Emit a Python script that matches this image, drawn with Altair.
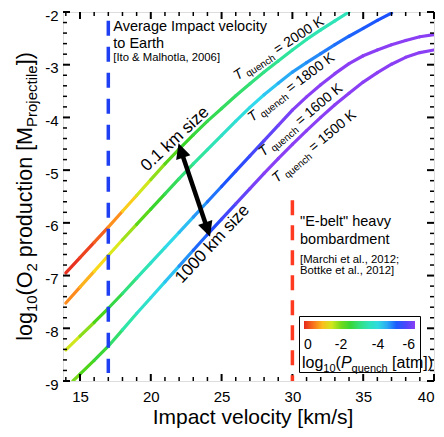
import altair as alt
import pandas as pd

FONT = "Liberation Sans"

# ------------------------------------------------------------------ data
# impact velocity [km/s], log10 O2 production, log10 P_quench (colour of the curve)
vel_2000 = [14, 15, 16, 17, 18, 19, 20, 21, 22, 23, 24, 25, 26, 27, 28, 29, 30, 31, 32, 33, 34]
o2_2000 = [-6.95, -6.66, -6.37, -6.08, -5.78, -5.48, -5.18, -4.88, -4.60, -4.33, -4.07,
           -3.83, -3.59, -3.36, -3.14, -2.93, -2.72, -2.52, -2.34, -2.17, -2.00]
pq_2000 = [0.0, -0.1, -0.25, -0.5, -0.9, -1.3, -1.7, -2.0, -2.3, -2.5, -2.65,
           -2.75, -2.85, -2.95, -3.05, -3.15, -3.25, -3.35, -3.45, -3.5, -3.55]

vel_1800 = [14, 15, 16, 17, 18, 19, 20, 21, 22, 23, 24, 25, 26, 27, 28, 29, 30, 31, 32, 33,
            34, 35, 36, 37]
o2_1800 = [-7.52, -7.22, -6.92, -6.62, -6.32, -6.03, -5.74, -5.45, -5.16, -4.88, -4.61, -4.34,
           -4.07, -3.81, -3.57, -3.35, -3.14, -2.96, -2.79, -2.62, -2.46, -2.31, -2.16, -2.02]
pq_1800 = [-0.55, -0.8, -1.05, -1.3, -1.6, -1.95, -2.3, -2.6, -2.85, -3.1, -3.35, -3.6,
           -3.85, -4.05, -4.25, -4.4, -4.55, -4.65, -4.75, -4.85, -4.92, -5.0, -5.05, -5.1]

vel_1600 = [14, 15, 16, 17, 18, 19, 20, 21, 22, 23, 24, 25, 26, 27, 28, 29, 30, 31, 32, 33,
            34, 35, 36, 37, 38, 39, 40]
o2_1600 = [-8.41, -8.15, -7.89, -7.62, -7.34, -7.05, -6.76, -6.47, -6.18, -5.89, -5.60, -5.31,
           -5.02, -4.73, -4.44, -4.15, -3.86, -3.61, -3.38, -3.17, -2.98, -2.83, -2.72, -2.62,
           -2.54, -2.47, -2.43]
pq_1600 = [-1.3, -1.7, -2.05, -2.4, -2.8, -3.2, -3.6, -3.95, -4.25, -4.5, -4.75, -4.95,
           -5.15, -5.35, -5.55, -5.75, -5.9, -6.0, -6.0, -6.0, -6.0, -6.0, -6.0, -6.0,
           -6.0, -6.0, -6.0]

vel_1500 = [14.5, 15, 16, 17, 18, 19, 20, 21, 22, 23, 24, 25, 26, 27, 28, 29, 30, 31, 32, 33,
            34, 35, 36, 37, 38, 39, 40]
o2_1500 = [-9.0, -8.87, -8.61, -8.34, -8.03, -7.72, -7.42, -7.12, -6.82, -6.52, -6.22, -5.93,
           -5.64, -5.35, -5.06, -4.78, -4.51, -4.25, -4.0, -3.76, -3.54, -3.33, -3.15, -2.99,
           -2.86, -2.77, -2.72]
pq_1500 = [-1.9, -2.05, -2.35, -2.65, -3.1, -3.5, -3.9, -4.2, -4.5, -4.8, -5.05, -5.3,
           -5.55, -5.8, -5.95, -6.0, -6.0, -6.0, -6.0, -6.0, -6.0, -6.0, -6.0, -6.0,
           -6.0, -6.0, -6.0]

curve_labels = ["= 2000 K", "= 1800 K", "= 1600 K", "= 1500 K"]

# axis ticks
x_major = [15, 20, 25, 30, 35, 40]
x_minor = [14, 16, 17, 18, 19, 21, 22, 23, 24, 26, 27, 28, 29, 31, 32, 33, 34, 36, 37, 38, 39]
y_major = [-9, -8, -7, -6, -5, -4, -3, -2]
y_minor = [-8.8, -8.6, -8.4, -8.2, -7.8, -7.6, -7.4, -7.2, -6.8, -6.6, -6.4, -6.2,
           -5.8, -5.6, -5.4, -5.2, -4.8, -4.6, -4.4, -4.2, -3.8, -3.6, -3.4, -3.2,
           -2.8, -2.6, -2.4, -2.2]

# colour bar
cbar_values = [0, 2, 4, 6]
cbar_domain = [0, 0.7, 1.3, 2.3, 3.3, 4.2, 5.1, 6.0]
cbar_colors = ["#e62a1e", "#ff8f1c", "#f7ec1c", "#3ad21a", "#2ee6a8", "#30d8f0", "#1a4cff", "#8b3ff5"]

# reference velocities (dashed lines)
earth_v, earth_top, earth_bot = 17, -2.165, -8.85
ebelt_v, ebelt_top, ebelt_bot = 30, -5.57, -9.0

# ------------------------------------------------------------------ layout
W, H = 371, 369
xs = alt.Scale(domain=[13.8, 40], nice=False, zero=False)
ys = alt.Scale(domain=[-9, -2], nice=False, zero=False)
xaxis = alt.Axis(values=x_major, title=None, grid=False, ticks=False, tickSize=0, domain=False,
                 labelFontSize=15, labelPadding=8, labelFont=FONT, labelColor="black",
                 labelExpr="'' + datum.value")
yaxis = alt.Axis(values=y_major, title=None, grid=False, ticks=False, tickSize=0, domain=False,
                 labelFontSize=15, labelPadding=5, labelFont=FONT, labelColor="black",
                 labelOffset=3, labelExpr="'' + datum.value")


def X(f):
    return alt.X(f, scale=xs, axis=xaxis)


def Y(f):
    return alt.Y(f, scale=ys, axis=yaxis)


# segments of the colour-graded curves
rows = []
for vs, os_, ps in [(vel_2000, o2_2000, pq_2000), (vel_1800, o2_1800, pq_1800),
                    (vel_1600, o2_1600, pq_1600), (vel_1500, o2_1500, pq_1500)]:
    for i in range(len(vs) - 1):
        rows.append({"v": vs[i], "y": os_[i], "v2": vs[i + 1], "y2": os_[i + 1],
                     "logp": (ps[i] + ps[i + 1]) / 2})
seg = pd.DataFrame(rows)

curves = alt.Chart(seg).transform_calculate(negp="-datum.logp").mark_rule(
    strokeWidth=3.2, strokeCap="round", clip=True
).encode(
    x=X("v:Q"), y=Y("y:Q"), x2="v2:Q", y2="y2:Q",
    color=alt.Color("negp:Q",
                    scale=alt.Scale(domain=cbar_domain, range=cbar_colors, interpolate="rgb"),
                    legend=alt.Legend(orient="none", legendX=236, legendY=304,
                                      direction="horizontal", gradientLength=111,
                                      gradientThickness=8, gradientStrokeWidth=0,
                                      values=cbar_values,
                                      labelExpr="datum.value == 0 ? '0' : '-' + datum.value",
                                      labelFontSize=14, labelFont=FONT, labelColor="black",
                                      labelAlign="center", labelOffset=9,
                                      title=" ", titleFontSize=13, titleOrient="bottom",
                                      titlePadding=2, padding=5, strokeColor="black"))
)

# ticks (inward, on all four sides)
def tick_layers():
    out = []
    for vals, ln, sw in [(x_major, 7, 2), (x_minor, 4, 1.5)]:
        d = pd.DataFrame({"t": vals})
        out.append(alt.Chart(d).mark_rule(color="black", strokeWidth=sw).encode(
            x=X("t:Q"), y=alt.value(H), y2=alt.value(H - ln)))
        out.append(alt.Chart(d).mark_rule(color="black", strokeWidth=sw).encode(
            x=X("t:Q"), y=alt.value(0), y2=alt.value(ln)))
    for vals, ln, sw in [(y_major, 7, 2), (y_minor, 4, 1.5)]:
        d = pd.DataFrame({"t": vals})
        out.append(alt.Chart(d).mark_rule(color="black", strokeWidth=sw).encode(
            y=Y("t:Q"), x=alt.value(0), x2=alt.value(ln)))
        out.append(alt.Chart(d).mark_rule(color="black", strokeWidth=sw).encode(
            y=Y("t:Q"), x=alt.value(W), x2=alt.value(W - ln)))
    return out


dash_blue = alt.Chart(pd.DataFrame({"v": [earth_v], "a": [earth_top], "b": [earth_bot]})).mark_rule(
    color="#1f3ff2", strokeWidth=3.5, strokeDash=[15, 11]).encode(x=X("v:Q"), y=Y("a:Q"), y2="b:Q")
dash_red = alt.Chart(pd.DataFrame({"v": [ebelt_v], "a": [ebelt_top], "b": [ebelt_bot]})).mark_rule(
    color="#ff3a20", strokeWidth=3.5, strokeDash=[15, 10]).encode(x=X("v:Q"), y=Y("a:Q"), y2="b:Q")

# double arrow between the 0.1 km and 1000 km curves
arrow_line = alt.Chart(pd.DataFrame({"v": [22.18], "y": [-4.671], "v2": [23.955], "y2": [-6.083]})
                       ).mark_rule(color="black", strokeWidth=4.5).encode(
    x=X("v:Q"), y=Y("y:Q"), x2="v2:Q", y2="y2:Q")
arrow_heads = alt.Chart(pd.DataFrame({"v": [21.957, 24.181], "y": [-4.491, -6.263],
                                      "ang": [341.4, 161.4]})).mark_point(
    shape="M0,0L-0.5,1L0.5,1Z", filled=True, size=900, color="black", opacity=1, strokeWidth=0
).encode(x=X("v:Q"), y=Y("y:Q"), angle=alt.Angle("ang:Q", scale=None))

# plain annotation text
notes = pd.DataFrame({
    "text": ["Average Impact velocity", "to Earth", "\"E-belt\" heavy", "bombardment"],
    "v": [17.35, 17.35, 30.54, 30.54], "y": [-2.351, -2.683, -6.069, -6.401]})
refs = pd.DataFrame({
    "text": ["[Ito & Malhotla, 2006]", "[Marchi et al., 2012;", "Bottke et al., 2012]"],
    "v": [17.35, 30.54, 30.54], "y": [-2.939, -6.762, -6.970]})
sizes = pd.DataFrame({"text": ["0.1 km size", "1000 km size"], "v": [19.73, 22.20],
                      "y": [-5.035, -7.16], "ang": [317, 313]})

notes_l = alt.Chart(notes).mark_text(align="left", baseline="alphabetic", font=FONT, fontSize=14.5,
                                     color="black").encode(x=X("v:Q"), y=Y("y:Q"), text="text:N")
refs_l = alt.Chart(refs).mark_text(align="left", baseline="alphabetic", font=FONT, fontSize=11.3,
                                   color="black").encode(x=X("v:Q"), y=Y("y:Q"), text="text:N")
sizes_l = alt.Chart(sizes).mark_text(align="left", baseline="alphabetic", font=FONT, fontSize=17,
                                     color="black").encode(
    x=X("v:Q"), y=Y("y:Q"), text="text:N", angle=alt.Angle("ang:Q", scale=None))

# rich text (subscripts) built from pieces
AW = {' ': 278, '(': 333, ')': 333, '[': 278, ']': 278, '=': 584, '0': 556, '1': 556, '2': 556,
      '5': 556, '6': 556, '8': 556, 'K': 667, 'M': 833, 'O': 778, 'P': 667, 'T': 611,
      'a': 556, 'c': 500, 'd': 556, 'e': 556, 'g': 556, 'h': 556, 'i': 222, 'j': 222, 'l': 222,
      'm': 833, 'n': 556, 'o': 556, 'p': 556, 'q': 556, 'r': 333, 't': 278, 'u': 556}


def tw(s, size):
    return sum(AW.get(c, 556) for c in s) * size / 1000.0


ONE = pd.DataFrame({"k": [0]})


def rich(pieces, data, enc, angle, sub_dy):
    out = []
    dx = 0.0
    for text, size, italic, sub in pieces:
        lead = len(text) - len(text.lstrip(" "))
        dx += tw(" " * lead, size)
        t = text.lstrip(" ")
        mk = dict(align="left", baseline="alphabetic", font=FONT, fontSize=size, color="black",
                  dx=round(dx, 2), dy=(sub_dy if sub else 0), angle=angle)
        if italic:
            mk["fontStyle"] = "italic"
        out.append(alt.Chart(data).mark_text(**mk).encode(text=alt.value(t), **enc))
        dx += tw(t, size)
    return out


t_anchor_v = [26.1, 27.15, 27.95, 28.9]
t_anchor_y = [-3.30, -4.09, -4.75, -5.25]
t_angle = [327, 323, 320, 320]
t_layers = []
for lab, av, ay, ang in zip(curve_labels, t_anchor_v, t_anchor_y, t_angle):
    d = pd.DataFrame({"v": [av], "y": [ay]})
    t_layers += rich([("T", 14, True, False), (" quench", 10, False, True),
                      (" " + lab, 14, False, False)],
                     d, dict(x=X("v:Q"), y=Y("y:Q")), ang, 3.5)

ytitle = rich([("log", 21.5, False, False), ("10", 15, False, True), ("(O", 21.5, False, False),
               ("2", 15, False, True), (" production [M", 21.5, False, False),
               ("Projectile", 15, False, True), ("])", 21.5, False, False)],
              ONE, dict(x=alt.value(-31), y=alt.value(328.8)), 270, 5)

ctitle = rich([("log", 16, False, False), ("10", 11, False, True), ("(", 16, False, False),
               ("P", 16, True, False), ("quench", 11, False, True), (" [atm])", 16, False, False)],
              ONE, dict(x=alt.value(239), y=alt.value(355.5)), 0, 4)

xtitle = alt.Chart(ONE).mark_text(align="center", baseline="alphabetic", font=FONT, fontSize=21,
                                  color="black").encode(
    x=alt.value(190), y=alt.value(411.5), text=alt.value("Impact velocity [km/s]"))

layers = ([curves] + tick_layers() + [dash_blue, dash_red, arrow_line, arrow_heads,
                                      notes_l, refs_l, sizes_l] + t_layers + ytitle + ctitle +
          [xtitle])

chart = alt.layer(*layers).properties(
    width=W, height=H, autosize="none",
    padding={"left": 55, "top": 4, "right": 2, "bottom": 48}
).configure_view(stroke="black", strokeWidth=2.5).configure(font=FONT)

chart.save("out.html", embed_options={"renderer": "svg", "actions": False})
